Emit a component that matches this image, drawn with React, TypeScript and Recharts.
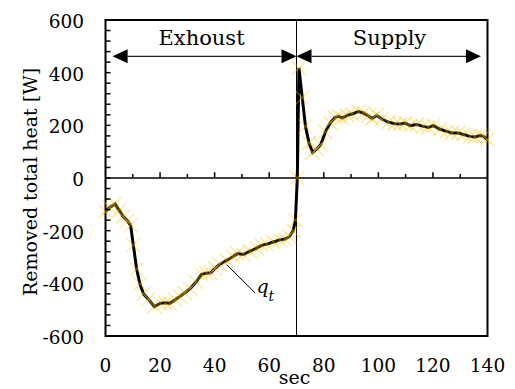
import React from 'react';
import {
  LineChart, Line, XAxis, YAxis, ReferenceLine, ReferenceArea, ReferenceDot,
} from 'recharts';

const FONT = 'DejaVu Serif';

// time [sec]
const timeSec = [
  0, 1.5, 3.5, 5, 6.5, 8, 9.2, 10.2, 11.4, 12.6,
  13.9, 15.7, 17.9, 20, 22, 23.6, 25.5, 27.3, 29, 31,
  33.2, 35.2, 37, 38.5, 40.2, 41.8, 44.4, 46.8, 48.3, 50.5,
  53, 55.4, 57.2, 59.1, 61.5, 63.9, 65.8, 67.4, 68.8, 69.6,
  70.3, 70.9, 72.1, 73.3, 74.6, 75.9, 77.4, 78.9, 80.6, 82.4,
  84.2, 85.5, 86.8, 88.5, 90.3, 92.7, 94.5, 96.3, 97.7, 99.4,
  101.2, 103.7, 106.1, 108, 109.8, 111.6, 114.1, 116.5, 118.3, 120.2,
  122.6, 125.1, 126.9, 129.3, 131.2, 133.6, 135.4, 137.3, 138.6, 140,
];

// removed total heat q_t [W]
const qt = [
  -127, -112, -99, -122, -146, -162, -180, -255, -345, -402,
  -440, -460, -488, -476, -474, -476, -462, -450, -437, -420,
  -395, -366, -362, -360, -343, -328, -313, -298, -287, -290,
  -278, -266, -256, -251, -243, -235, -232, -222, -200, -160,
  0, 418, 305, 196, 133, 97, 110, 127, 175, 210,
  230, 234, 228, 238, 243, 252, 247, 236, 225, 238,
  224, 212, 206, 205, 209, 199, 203, 196, 192, 199,
  185, 177, 171, 171, 165, 158, 156, 161, 158, 146,
];

const xTicks = [0, 20, 40, 60, 80, 100, 120, 140];
const yTicks = Array.from({ length: 31 }, (_, i) => -600 + i * 40);
const yLabelEvery = 200;
const zeroLineTicks = [10, 20, 30, 40, 50, 60, 70, 80, 90, 100, 110, 120, 130];
const majorTickLen = 22;
const minorTickLen = 15;

const switchTime = 70;
const arrowLevel = 462;
const exhaustArrow = [{ x: 2.6, y: arrowLevel }, { x: 70, y: arrowLevel }];
const supplyArrow = [{ x: 70, y: arrowLevel }, { x: 137.6, y: arrowLevel }];
const exhaustLabel = { x: 35.2, y: 506, text: 'Exhoust' };
const supplyLabel = { x: 104.1, y: 506, text: 'Supply' };
const leader = [{ x: 44.4, y: -329 }, { x: 54.8, y: -436 }];
const qLabel = { x: 55.3, y: -435 };

const data = timeSec.map((t, i) => ({ t, q: qt[i] }));

const Cross = (props: any) => {
  const { cx, cy, index } = props;
  if (cx == null || cy == null) return <g key={`c${index}`} />;
  const s = 7;
  return (
    <path
      key={`c${index}`}
      d={`M${cx - s},${cy - s}L${cx + s},${cy + s}M${cx - s},${cy + s}L${cx + s},${cy - s}`}
      stroke="#FFC000"
      strokeOpacity={0.4}
      strokeWidth={1.3}
      fill="none"
    />
  );
};

const arrowShape = (p: any) => {
  const { x1, y1, x2, y2 } = p;
  const L = 15;
  const H = 7;
  return (
    <g>
      <line x1={x1 + L} y1={y1} x2={x2 - L} y2={y2} stroke="#222" strokeWidth={1.3} />
      <polygon points={`${x1},${y1} ${x1 + L},${y1 - H} ${x1 + L},${y1 + H}`} fill="#000" />
      <polygon points={`${x2},${y2} ${x2 - L},${y2 - H} ${x2 - L},${y2 + H}`} fill="#000" />
    </g>
  );
};

const Y_TICK_MARGIN = 21.5;

const YTick = (props: any) => {
  const { x, y, payload } = props;
  const v = payload.value;
  const frameX = x + Y_TICK_MARGIN;
  return (
    <g>
      <line x1={frameX} y1={y} x2={frameX + 5} y2={y} stroke="#000" strokeWidth={1.5} />
      {v % yLabelEvery === 0 ? (
        <text x={x} y={y} dy={8} textAnchor="end" fontSize={18.5} fontFamily={FONT} fill="#000">
          {v}
        </text>
      ) : null}
    </g>
  );
};

const XTick = (props: any) => {
  const { x, y, payload } = props;
  return (
    <text x={x} y={y} dy={16} textAnchor="middle" fontSize={18.5} fontFamily={FONT} fill="#000">
      {payload.value}
    </text>
  );
};

export default function App() {
  return (
    <div style={{ position: 'absolute', left: 0, top: 0, background: '#fff' }}>
      <LineChart
        width={515}
        height={389}
        data={data}
        margin={{ top: 20, right: 27.5, bottom: 23, left: 0 }}
      >
        <XAxis
          dataKey="t"
          type="number"
          domain={[0, 140]}
          ticks={xTicks}
          interval={0}
          axisLine={false}
          tickLine={false}
          tickSize={0}
          tickMargin={20}
          height={30}
          tick={<XTick />}
          label={{
            content: (p: any) => {
              const vb = p.viewBox;
              return (
                <text x={vb.x + vb.width / 2 - 2} y={384} textAnchor="middle" fontSize={19} fontFamily={FONT} fill="#000">
                  sec
                </text>
              );
            },
          }}
        />
        <YAxis
          type="number"
          domain={[-600, 600]}
          ticks={yTicks}
          interval={0}
          width={105.5}
          axisLine={false}
          tickLine={false}
          tickSize={0}
          tickMargin={Y_TICK_MARGIN}
          tick={<YTick />}
          label={{
            content: () => (
              <text
                x={37}
                y={182}
                textAnchor="middle"
                transform="rotate(-90, 37, 182)"
                fontSize={19}
                fontFamily={FONT}
                fill="#000"
              >
                Removed total heat [W]
              </text>
            ),
          }}
        />
        <ReferenceArea x1={0} x2={140} y1={-600} y2={600} fill="none" stroke="#000" strokeWidth={2} ifOverflow="visible" />
        <ReferenceLine y={0} stroke="#000" strokeWidth={1.5} />
        <ReferenceLine x={switchTime} stroke="#000" strokeWidth={1} />
        {zeroLineTicks.map((t) => (
          <ReferenceLine
            key={`zt${t}`}
            segment={[{ x: t, y: 0 }, { x: t, y: t % 20 === 0 ? majorTickLen : minorTickLen }]}
            stroke="#000"
            strokeWidth={1.5}
          />
        ))}
        <ReferenceLine segment={exhaustArrow} shape={arrowShape} />
        <ReferenceLine segment={supplyArrow} shape={arrowShape} />
        <ReferenceLine segment={leader} stroke="#000" strokeWidth={1} />
        <ReferenceDot
          x={exhaustLabel.x}
          y={exhaustLabel.y}
          r={0}
          stroke="none"
          label={{
            content: (p: any) => (
              <text x={p.viewBox.x} y={p.viewBox.y} textAnchor="middle" fontSize={21} fontFamily={FONT} fill="#000">
                {exhaustLabel.text}
              </text>
            ),
          }}
        />
        <ReferenceDot
          x={supplyLabel.x}
          y={supplyLabel.y}
          r={0}
          stroke="none"
          label={{
            content: (p: any) => (
              <text x={p.viewBox.x} y={p.viewBox.y} textAnchor="middle" fontSize={21} fontFamily={FONT} fill="#000">
                {supplyLabel.text}
              </text>
            ),
          }}
        />
        <ReferenceDot
          x={qLabel.x}
          y={qLabel.y}
          r={0}
          stroke="none"
          label={{
            content: (p: any) => (
              <text x={p.viewBox.x} y={p.viewBox.y} fontSize={19} fontStyle="italic" fontFamily={FONT} fill="#000">
                q
                <tspan fontSize={14} dy={8}>t</tspan>
              </text>
            ),
          }}
        />
        <Line
          dataKey="q"
          stroke="none"
          dot={<Cross />}
          activeDot={false}
          isAnimationActive={false}
          legendType="none"
        />
        <Line
          dataKey="q"
          type="linear"
          stroke="#000"
          strokeWidth={3}
          dot={false}
          activeDot={false}
          isAnimationActive={false}
          legendType="none"
        />
      </LineChart>
    </div>
  );
}
